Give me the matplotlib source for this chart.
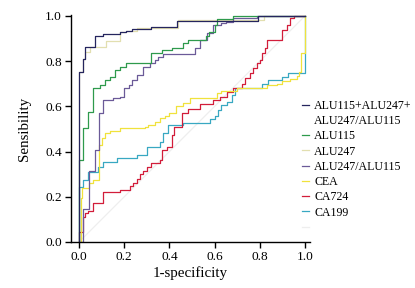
import matplotlib
matplotlib.use("Agg")
import matplotlib.pyplot as plt
from matplotlib.lines import Line2D

plt.rcParams['font.family'] = ['Liberation Serif', 'DejaVu Serif']

# ---- data (corner points of each ROC staircase) ----
comb_fpr = [0, 0, 0.018, 0.027, 0.07, 0.106, 0.18, 0.21, 0.233, 0.32, 0.435, 0.79, 1.0]
comb_tpr = [0, 0.754, 0.81, 0.864, 0.91, 0.918, 0.927, 0.935, 0.942, 0.953, 0.978, 1.0, 1.0]

alu115_fpr = [0, 0, 0.019, 0.041, 0.063, 0.093, 0.115, 0.137, 0.16, 0.18, 0.21, 0.32, 0.366,
              0.41, 0.46, 0.484, 0.56, 0.575, 0.6, 0.61, 0.68, 1.0]
alu115_tpr = [0, 0.363, 0.503, 0.577, 0.68, 0.695, 0.717, 0.729, 0.761, 0.776, 0.79, 0.835, 0.85,
              0.857, 0.88, 0.895, 0.91, 0.93, 0.96, 0.985, 1.0, 1.0]

alu247_fpr = [0, 0, 0.018, 0.027, 0.05, 0.12, 0.18, 0.21, 0.255, 0.44, 0.82, 1.0]
alu247_tpr = [0, 0.754, 0.81, 0.84, 0.864, 0.89, 0.927, 0.935, 0.945, 0.98, 1.0, 1.0]

ratio_fpr = [0, 0.016, 0.046, 0.07, 0.09, 0.108, 0.15, 0.18, 0.2, 0.22, 0.233, 0.255, 0.285,
             0.314, 0.336, 0.35, 0.373, 0.513, 0.535, 0.565, 0.594, 0.63, 0.65, 0.68, 0.786, 1.0]
ratio_tpr = [0, 0.145, 0.315, 0.407, 0.57, 0.628, 0.636, 0.643, 0.68, 0.695, 0.717, 0.739, 0.776,
             0.79, 0.805, 0.82, 0.83, 0.857, 0.894, 0.923, 0.96, 0.968, 0.975, 0.99, 1.0, 1.0]

cea_fpr = [0, 0.008, 0.012, 0.045, 0.063, 0.088, 0.1, 0.115, 0.137, 0.18, 0.29, 0.307, 0.336,
           0.36, 0.38, 0.40, 0.43, 0.46, 0.49, 0.61, 0.63, 0.70, 0.83, 0.875, 0.9, 0.934,
           0.963, 0.975, 0.98, 1.0]
cea_tpr = [0, 0.195, 0.237, 0.26, 0.274, 0.43, 0.459, 0.48, 0.49, 0.503, 0.51, 0.518, 0.532,
           0.55, 0.556, 0.57, 0.60, 0.614, 0.636, 0.658, 0.67, 0.68, 0.695, 0.70, 0.71, 0.72,
           0.735, 0.75, 0.835, 1.0]

ca724_fpr = [0, 0, 0.016, 0.027, 0.04, 0.063, 0.108, 0.18, 0.226, 0.24, 0.255, 0.27, 0.285,
             0.30, 0.32, 0.358, 0.366, 0.388, 0.41, 0.42, 0.455, 0.484, 0.535, 0.594, 0.624,
             0.653, 0.683, 0.72, 0.735, 0.757, 0.77, 0.786, 0.80, 0.81, 0.823, 0.83, 0.897,
             0.92, 0.934, 0.95, 1.0]
ca724_tpr = [0, 0.046, 0.11, 0.127, 0.139, 0.174, 0.22, 0.23, 0.249, 0.26, 0.28, 0.30, 0.315,
             0.333, 0.348, 0.363, 0.407, 0.42, 0.473, 0.51, 0.57, 0.587, 0.61, 0.628, 0.643,
             0.665, 0.68, 0.70, 0.724, 0.746, 0.768, 0.79, 0.805, 0.835, 0.857, 0.894, 0.938,
             0.96, 0.99, 1.0, 1.0]

ca199_fpr = [0, 0, 0.016, 0.041, 0.085, 0.108, 0.167, 0.255, 0.3, 0.358, 0.373, 0.395, 0.46,
             0.58, 0.60, 0.617, 0.63, 0.653, 0.676, 0.69, 0.808, 0.838, 0.897, 0.926, 1.0, 1.0]
ca199_tpr = [0, 0.245, 0.274, 0.311, 0.333, 0.355, 0.37, 0.385, 0.42, 0.444, 0.48, 0.518, 0.525,
             0.543, 0.557, 0.584, 0.606, 0.62, 0.65, 0.68, 0.70, 0.717, 0.73, 0.746, 0.754, 1.0]

ref_x = [0, 1]
ref_y = [0, 1]

x_ticks = [0.0, 0.2, 0.4, 0.6, 0.8, 1.0]
y_ticks = [0.0, 0.2, 0.4, 0.6, 0.8, 1.0]

# ---- figure ----
fig = plt.figure(figsize=(4.15, 2.88), dpi=100)
ax = fig.add_axes([71/415, 1 - 242/288, (310 - 71)/415, (242 - 15)/288])

lw = 0.9
l_ref, = ax.plot(ref_x, ref_y, color='#eeeeee', lw=lw)
l_247, = ax.plot(alu247_fpr, alu247_tpr, drawstyle='steps-post', color='#e2dfb0', lw=lw)
l_199, = ax.plot(ca199_fpr, ca199_tpr, drawstyle='steps-post', color='#38a8c2', lw=lw)
l_724, = ax.plot(ca724_fpr, ca724_tpr, drawstyle='steps-post', color='#d21d3a', lw=lw)
l_cea, = ax.plot(cea_fpr, cea_tpr, drawstyle='steps-post', color='#f0e23c', lw=lw)
l_rat, = ax.plot(ratio_fpr, ratio_tpr, drawstyle='steps-post', color='#6b5a98', lw=lw)
l_115, = ax.plot(alu115_fpr, alu115_tpr, drawstyle='steps-post', color='#2e9a4c', lw=lw)
l_cmb, = ax.plot(comb_fpr, comb_tpr, drawstyle='steps-post', color='#25255e', lw=lw)

ax.set_xlim(-0.0354, 1.022)
ax.set_ylim(0, 1.004)
ax.set_xticks(x_ticks)
ax.set_yticks(y_ticks)
ax.set_xticklabels([f'{v:.1f}' for v in x_ticks])
ax.set_yticklabels([f'{v:.1f}' for v in y_ticks])
for s in ['top', 'right']:
    ax.spines[s].set_visible(False)
for s in ['left', 'bottom']:
    ax.spines[s].set_linewidth(1.0)
ax.tick_params(direction='out', length=4, width=1.0, labelsize=9.6, pad=2.5, colors='black')
ax.set_xlabel('1-specificity', fontsize=10.8, labelpad=2)
ax.set_ylabel('Sensibility', fontsize=10.8, labelpad=10)

# legend (second line of first label as a handle-less entry)
blank = Line2D([], [], color='none')
handles = [l_cmb, blank, l_115, l_247, l_rat, l_cea, l_724, l_199, l_ref]
labels = ['ALU115+ALU247+', 'ALU247/ALU115', 'ALU115', 'ALU247', 'ALU247/ALU115',
          'CEA', 'CA724', 'CA199', ' ']
leg = ax.legend(handles, labels, loc='upper left', bbox_to_anchor=(301.5/415, 1 - 100/288),
                bbox_transform=fig.transFigure, frameon=False, fontsize=8.6,
                handlelength=0.6, handletextpad=0.45, labelspacing=0.27, borderpad=0,
                borderaxespad=0)

fig.savefig('out.png', dpi=100)
